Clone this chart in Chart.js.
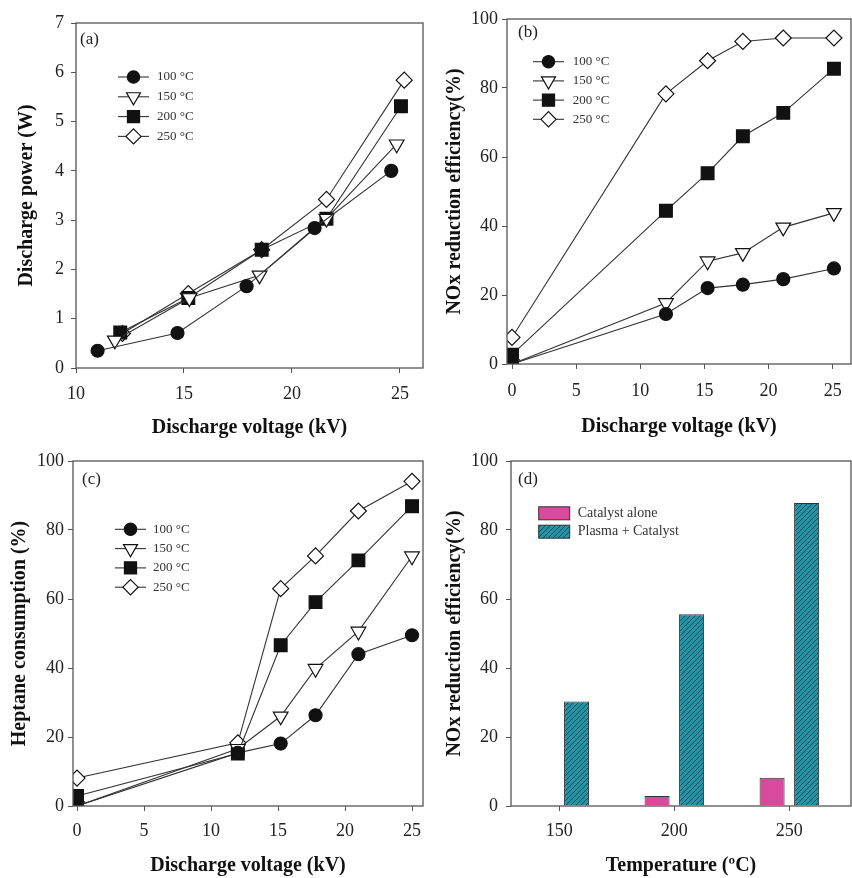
<!DOCTYPE html>
<html>
<head>
<meta charset="utf-8">
<script src="https://cdn.jsdelivr.net/npm/chart.js@4.4.1/dist/chart.umd.min.js"></script>
<style>
  body { margin: 0; background: #fff; }
  #page { position: relative; width: 852px; height: 878px; }
  canvas { position: absolute; }
</style>
</head>
<body>
<div id="page">
  <canvas id="chartA" width="426" height="440" style="left:0;top:0"></canvas>
  <canvas id="chartB" width="426" height="440" style="left:426px;top:0"></canvas>
  <canvas id="chartC" width="426" height="438" style="left:0;top:440px"></canvas>
  <canvas id="chartD" width="426" height="438" style="left:426px;top:440px"></canvas>
</div>
<script>
const tempLabels = ['100 °C', '150 °C', '200 °C', '250 °C'];

// (a) discharge power vs discharge voltage, each series has its own voltages
const powerVolt100 = [11.0, 14.7, 17.9, 21.05, 24.6];
const powerVolt150 = [11.8, 15.25, 18.5, 21.6, 24.85];
const powerVolt200 = [12.05, 15.2, 18.6, 21.6, 25.05];
const powerVolt250 = [12.15, 15.2, 18.6, 21.6, 25.2];
const power100 = [0.35, 0.71, 1.66, 2.84, 4.0];
const power150 = [0.56, 1.42, 1.88, 3.03, 4.54];
const power200 = [0.72, 1.42, 2.40, 3.03, 5.31];
const power250 = [0.70, 1.51, 2.40, 3.42, 5.84];
const powerXTicks = [10, 15, 20, 25];
const powerYTicks = [0, 1, 2, 3, 4, 5, 6, 7];

// (b) NOx reduction efficiency vs discharge voltage
const noxVolt = [0, 12, 15.25, 18, 21.15, 25.1];
const nox100 = [0, 14.5, 22.0, 23.0, 24.6, 27.7];
const nox150 = [0, 17.7, 29.8, 32.2, 39.6, 43.8];
const nox200 = [2.7, 44.4, 55.3, 66.0, 72.8, 85.6];
const nox250 = [7.7, 78.3, 87.9, 93.5, 94.5, 94.5];

// (c) heptane consumption vs discharge voltage
const heptVolt = [0, 12, 15.2, 17.8, 21.0, 25.0];
const hept100 = [0, 15.4, 18.1, 26.3, 44.0, 49.5];
const hept150 = [0, 16.6, 26.0, 39.8, 50.6, 72.4];
const hept200 = [2.9, 15.2, 46.6, 59.1, 71.2, 86.9];
const hept250 = [8.1, 18.3, 63.0, 72.5, 85.5, 94.1];

const voltTicks = [0, 5, 10, 15, 20, 25];
const percentTicks = [0, 20, 40, 60, 80, 100];

// (d) NOx reduction by temperature
const temperatures = [150, 200, 250];
const catalystAlone = [0, 2.9, 8.2];
const plasmaCatalyst = [30.3, 55.6, 87.8];

Chart.defaults.font.family = "'Liberation Serif', 'Times New Roman', serif";
Chart.defaults.color = '#222';

// marker looks per temperature
const markerStyle = ['circle', 'triangle', 'rect', 'rectRot'];
const markerRadius = [6.5, 8.5, 9, 8];
const markerRotation = [0, 180, 0, 0];
const markerFill = ['#111', '#fff', '#111', '#fff'];

function lineDatasets(voltages, series) {
    return series.map((vals, i) => ({
        label: tempLabels[i],
        data: vals.map((v, j) => ({ x: voltages[i][j], y: v })),
        borderColor: '#333',
        borderWidth: 1.1,
        pointStyle: markerStyle[i],
        pointRadius: markerRadius[i],
        pointHoverRadius: markerRadius[i],
        pointRotation: markerRotation[i],
        pointBackgroundColor: markerFill[i],
        pointBorderColor: '#111',
        pointBorderWidth: 1.2,
        tension: 0,
        fill: false
    }));
}

// box round the plot area
const framePlugin = {
    id: 'frame',
    afterDraw(chart) {
        const a = chart.chartArea;
        const ctx = chart.ctx;
        ctx.save();
        ctx.strokeStyle = '#555';
        ctx.lineWidth = 1.3;
        ctx.strokeRect(a.left, a.top, a.right - a.left, a.bottom - a.top);
        ctx.restore();
    }
};

// (a), (b) ... tag in the corner
const tagPlugin = {
    id: 'panelTag',
    afterDraw(chart, args, opts) {
        if (!opts.text) return;
        const ctx = chart.ctx;
        ctx.save();
        ctx.font = "17px 'Liberation Serif'";
        ctx.fillStyle = '#222';
        ctx.textBaseline = 'middle';
        ctx.fillText(opts.text, opts.x, opts.y);
        ctx.restore();
    }
};

// legend drawn where the figure has it
const legendPlugin = {
    id: 'markerLegend',
    afterDraw(chart, args, opts) {
        if (opts.x === undefined) return;
        const ctx = chart.ctx;
        ctx.save();
        chart.data.datasets.forEach((ds, i) => {
            const y = opts.y + i * opts.dy;
            if (opts.boxes) {
                ctx.fillStyle = ds.backgroundColor;
                ctx.fillRect(opts.x, y - 6.5, 31, 13);
                ctx.strokeStyle = '#333';
                ctx.lineWidth = 1;
                ctx.strokeRect(opts.x, y - 6.5, 31, 13);
            } else {
                ctx.strokeStyle = '#333';
                ctx.lineWidth = 1.1;
                ctx.beginPath();
                ctx.moveTo(opts.x, y);
                ctx.lineTo(opts.x + 31, y);
                ctx.stroke();
                ctx.fillStyle = ds.pointBackgroundColor;
                ctx.strokeStyle = ds.pointBorderColor;
                ctx.lineWidth = ds.pointBorderWidth;
                Chart.helpers.drawPoint(ctx, {
                    pointStyle: ds.pointStyle,
                    radius: ds.pointRadius * 0.95,
                    rotation: ds.pointRotation,
                    borderWidth: ds.pointBorderWidth
                }, opts.x + 15.5, y);
            }
            ctx.fillStyle = '#333';
            ctx.font = opts.font;
            ctx.textBaseline = 'middle';
            ctx.fillText(ds.label, opts.textX, y);
        });
        ctx.restore();
    }
};

function panelOptions(p) {
    return {
        responsive: false,
        animation: false,
        events: [],
        layout: { autoPadding: false, padding: { top: p.top, right: p.right, left: 0, bottom: 0 } },
        plugins: {
            legend: { display: false },
            tooltip: { enabled: false },
            panelTag: p.tag,
            markerLegend: p.legend
        },
        scales: {
            x: {
                type: 'linear',
                min: p.xMin,
                max: p.xMax,
                offset: false,
                afterBuildTicks: s => { s.ticks = p.xTicks.map(v => ({ value: v })); },
                afterFit: s => { s.height = p.xAxisH; s.paddingLeft = 0; s.paddingRight = 0; },
                border: { display: false },
                grid: { display: true, offset: false, drawOnChartArea: false, drawTicks: true, tickLength: 5, color: '#555' },
                ticks: { padding: p.xPad, maxRotation: 0, autoSkip: false, font: { size: 18 }, color: '#222' },
                title: { display: true, text: p.xTitle, color: '#111', font: { size: 20, weight: 'bold' }, padding: { top: 0, bottom: p.xTitlePad } }
            },
            y: {
                type: 'linear',
                min: p.yMin,
                max: p.yMax,
                afterBuildTicks: s => { s.ticks = p.yTicks.map(v => ({ value: v })); },
                afterFit: s => { s.width = p.yAxisW; },
                border: { display: false },
                grid: { display: true, drawOnChartArea: false, drawTicks: true, tickLength: 5, color: '#555' },
                ticks: { padding: p.yPad, autoSkip: false, font: { size: 18 }, color: '#222' },
                title: { display: true, text: p.yTitle, color: '#111', font: { size: 20, weight: 'bold' }, padding: { top: p.yTitlePad, bottom: 0 } }
            }
        }
    };
}

const plugins = [framePlugin, tagPlugin, legendPlugin];

// (a)
new Chart(document.getElementById('chartA'), {
    type: 'line',
    data: {
        datasets: lineDatasets(
            [powerVolt100, powerVolt150, powerVolt200, powerVolt250],
            [power100, power150, power200, power250])
    },
    options: panelOptions({
        top: 23, right: 3, xAxisH: 72, yAxisW: 76,
        xMin: 10, xMax: 26.07, xTicks: powerXTicks, xPad: 10, xTitlePad: 0,
        yMin: 0, yMax: 7, yTicks: powerYTicks, yPad: 7, yTitlePad: 15,
        xTitle: 'Discharge voltage (kV)', yTitle: 'Discharge power (W)',
        tag: { text: '(a)', x: 80, y: 40 },
        legend: { x: 118, y: 77, dy: 19.8, textX: 157, font: "13px 'Liberation Serif'" }
    }),
    plugins: plugins
});

// (b)
new Chart(document.getElementById('chartB'), {
    type: 'line',
    data: {
        datasets: lineDatasets(
            [noxVolt, noxVolt, noxVolt, noxVolt],
            [nox100, nox150, nox200, nox250])
    },
    options: panelOptions({
        top: 19, right: 1, xAxisH: 76, yAxisW: 81,
        xMin: -0.39, xMax: 26.43, xTicks: voltTicks, xPad: 11, xTitlePad: 1,
        yMin: 0, yMax: 100, yTicks: percentTicks, yPad: 4, yTitlePad: 17,
        xTitle: 'Discharge voltage (kV)', yTitle: 'NOx reduction efficiency(%)',
        tag: { text: '(b)', x: 92, y: 33 },
        legend: { x: 107, y: 61.7, dy: 19.2, textX: 146.7, font: "13px 'Liberation Serif'" }
    }),
    plugins: plugins
});

// (c)
new Chart(document.getElementById('chartC'), {
    type: 'line',
    data: {
        datasets: lineDatasets(
            [heptVolt, heptVolt, heptVolt, heptVolt],
            [hept100, hept150, hept200, hept250])
    },
    options: panelOptions({
        top: 21, right: 3, xAxisH: 72, yAxisW: 73,
        xMin: -0.3, xMax: 25.82, xTicks: voltTicks, xPad: 9, xTitlePad: 0,
        yMin: 0, yMax: 100, yTicks: percentTicks, yPad: 4, yTitlePad: 8,
        xTitle: 'Discharge voltage (kV)', yTitle: 'Heptane consumption (%)',
        tag: { text: '(c)', x: 82, y: 40 },
        legend: { x: 115, y: 89.3, dy: 19.3, textX: 153, font: "13px 'Liberation Serif'" }
    }),
    plugins: plugins
});

// hatched teal fill for plasma + catalyst
const hatch = document.createElement('canvas');
hatch.width = 5;
hatch.height = 5;
const hctx = hatch.getContext('2d');
hctx.fillStyle = '#2294a6';
hctx.fillRect(0, 0, 5, 5);
hctx.strokeStyle = '#0d4d5b';
hctx.lineWidth = 1;
hctx.beginPath();
hctx.moveTo(0, 5); hctx.lineTo(5, 0);
hctx.moveTo(-1, 1); hctx.lineTo(1, -1);
hctx.moveTo(4, 6); hctx.lineTo(6, 4);
hctx.stroke();
const hatchPattern = hctx.createPattern(hatch, 'repeat');

// (d)
const barOptions = panelOptions({
    top: 21, right: 1, xAxisH: 72, yAxisW: 85,
    xMin: 129, xMax: 276.8, xTicks: temperatures, xPad: 9, xTitlePad: 0,
    yMin: 0, yMax: 100, yTicks: percentTicks, yPad: 8, yTitlePad: 17,
    xTitle: 'Temperature (ºC)', yTitle: 'NOx reduction efficiency(%)',
    tag: { text: '(d)', x: 92, y: 40 },
    legend: { x: 112.7, y: 73.3, dy: 18.4, textX: 151.7, boxes: true, font: "14px 'Liberation Serif'" }
});

new Chart(document.getElementById('chartD'), {
    type: 'bar',
    data: {
        datasets: [{
            label: 'Catalyst alone',
            data: temperatures.map((t, i) => ({ x: t, y: catalystAlone[i] })),
            backgroundColor: '#d9499c',
            borderColor: '#333',
            borderWidth: 1,
            categoryPercentage: 0.6,
            barPercentage: 0.725
        }, {
            label: 'Plasma + Catalyst',
            data: temperatures.map((t, i) => ({ x: t, y: plasmaCatalyst[i] })),
            backgroundColor: hatchPattern,
            borderColor: '#333',
            borderWidth: 1,
            categoryPercentage: 0.6,
            barPercentage: 0.725
        }]
    },
    options: barOptions,
    plugins: plugins
});
</script>
</body>
</html>
